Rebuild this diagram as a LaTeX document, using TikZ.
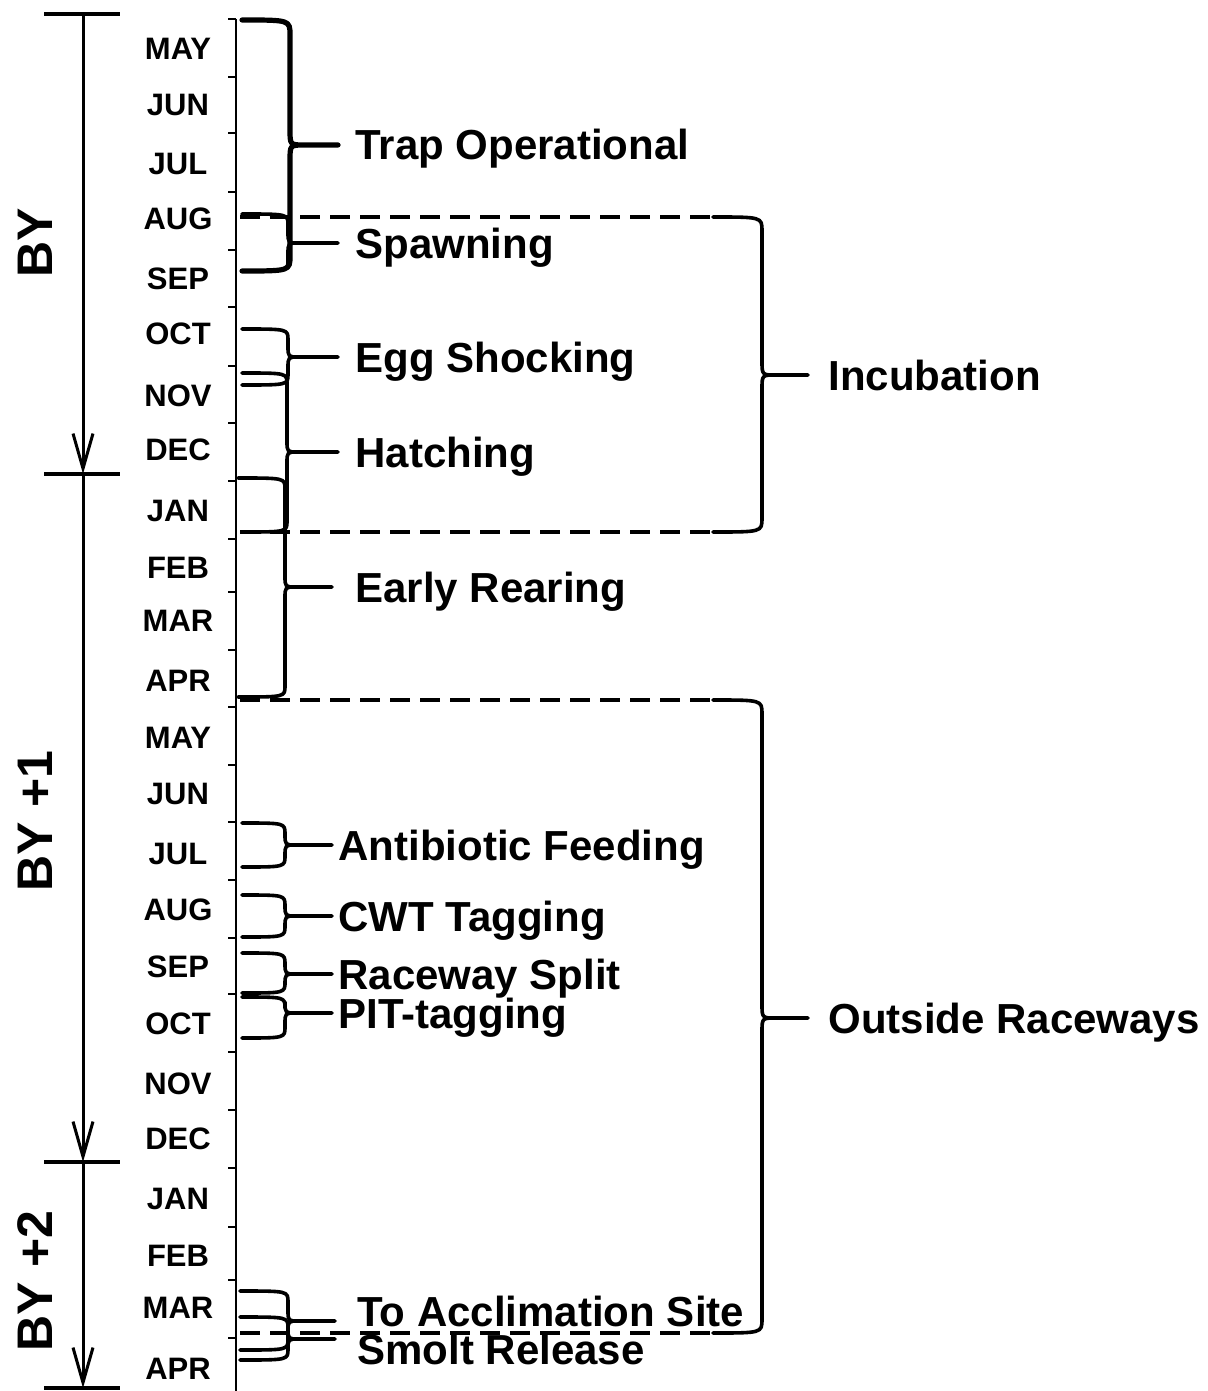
\documentclass[tikz,border=0pt]{standalone}
\usepackage{fontspec}
\setmainfont{Liberation Sans}
\usetikzlibrary{arrows.meta}

\tikzset{
  month/.style={font=\fontsize{15.5}{18}\selectfont\bfseries, inner sep=0pt, text height=11.1pt, text depth=0pt},
  phase/.style={font=\fontsize{21}{25}\selectfont\bfseries, anchor=west, inner ysep=0pt, inner xsep=8.5pt, text height=15pt, text depth=0pt},
  period/.style={font=\fontsize{25}{30}\selectfont\bfseries, rotate=90, inner sep=0pt, text height=17.9pt, text depth=0pt},
  bracestroke/.style={line width=1.8pt, line join=round, line cap=round},
  phaseline/.style={line width=1.8pt, dash pattern=on 10pt off 5pt},
  axisline/.style={line width=1pt},
  yearbar/.style={line width=2.2pt},
  yearspan/.style={line width=1.5pt, -{Straight Barb[length=17.5pt,width=10pt,line width=1.5pt]}},
}

% curly brace: #2 hook x, #3 spine x, #4 top y, #5 tip y, #6 bottom y, #7 label anchor
\newcommand{\phasebrace}[7][]{%
  \draw[bracestroke,#1] (#2,#4) .. controls (#3,#4) .. (#3,#4+\bracer)
    -- (#3,#5-\bracer) .. controls (#3,#5) .. (#3+\bracer,#5) -- (#7)
    -- (#3+\bracer,#5) .. controls (#3,#5) .. (#3,#5+\bracer)
    -- (#3,#6-\bracer) .. controls (#3,#6) .. (#2,#6);
}

\begin{document}
\begin{tikzpicture}[x=0.5pt, y=-0.5pt]
    \useasboundingbox (0,0) rectangle (1207,1391);

    % Brood years on the left
    \coordinate (by0) at (83,14);
    \coordinate (by1) at (83,474);
    \coordinate (by2) at (83,1162);
    \coordinate (by3) at (83,1388);
    \draw[yearbar] (44,14) -- (120,14);
    \draw[yearbar] (44,474) -- (120,474);
    \draw[yearbar] (44,1162) -- (120,1162);
    \draw[yearbar] (44,1388) -- (120,1388);
    \draw[yearspan] (by0) -- (by1);
    \draw[yearspan] (by1) -- (by2);
    \draw[yearspan] (by2) -- (by3);
    \node[period] (byA) at (35,243) {BY};
    \node[period] (byB) at (35,821) {BY +1};
    \node[period] (byC) at (35,1281) {BY +2};

    % Month axis with a tick at the start of each month
    \draw[axisline] (236,19) -- (236,1391);

    \node[month] (m1) at (178,48) {MAY};
    \draw[axisline] (228,19) -- (236,19);
    \node[month] (m2) at (178,104) {JUN};
    \draw[axisline] (228,77) -- (236,77);
    \node[month] (m3) at (178,163) {JUL};
    \draw[axisline] (228,133) -- (236,133);
    \node[month] (m4) at (178,218) {AUG};
    \draw[axisline] (228,192) -- (236,192);
    \node[month] (m5) at (178,278) {SEP};
    \draw[axisline] (228,250) -- (236,250);
    \node[month] (m6) at (178,333) {OCT};
    \draw[axisline] (228,307) -- (236,307);
    \node[month] (m7) at (178,395) {NOV};
    \draw[axisline] (228,366) -- (236,366);
    \node[month] (m8) at (178,449) {DEC};
    \draw[axisline] (228,423) -- (236,423);
    \node[month] (m9) at (178,510) {JAN};
    \draw[axisline] (228,481) -- (236,481);
    \node[month] (m10) at (178,567) {FEB};
    \draw[axisline] (228,539) -- (236,539);
    \node[month] (m11) at (178,620) {MAR};
    \draw[axisline] (228,592) -- (236,592);
    \node[month] (m12) at (178,680) {APR};
    \draw[axisline] (228,650) -- (236,650);
    \node[month] (m13) at (178,737) {MAY};
    \draw[axisline] (228,707) -- (236,707);
    \node[month] (m14) at (178,793) {JUN};
    \draw[axisline] (228,765) -- (236,765);
    \node[month] (m15) at (178,853) {JUL};
    \draw[axisline] (228,822) -- (236,822);
    \node[month] (m16) at (178,909) {AUG};
    \draw[axisline] (228,880) -- (236,880);
    \node[month] (m17) at (178,966) {SEP};
    \draw[axisline] (228,938) -- (236,938);
    \node[month] (m18) at (178,1023) {OCT};
    \draw[axisline] (228,994) -- (236,994);
    \node[month] (m19) at (178,1083) {NOV};
    \draw[axisline] (228,1052) -- (236,1052);
    \node[month] (m20) at (178,1138) {DEC};
    \draw[axisline] (228,1110) -- (236,1110);
    \node[month] (m21) at (178,1198) {JAN};
    \draw[axisline] (228,1168) -- (236,1168);
    \node[month] (m22) at (178,1255) {FEB};
    \draw[axisline] (228,1227) -- (236,1227);
    \node[month] (m23) at (178,1307) {MAR};
    \draw[axisline] (228,1280) -- (236,1280);
    \node[month] (m24) at (178,1368) {APR};
    \draw[axisline] (228,1338) -- (236,1338);

    % Phase labels
    \node[phase] (trap) at (338,145) {Trap Operational};
    \node[phase] (spawn) at (338,243) {Spawning};
    \node[phase] (shock) at (338,357) {Egg Shocking};
    \node[phase] (hatch) at (338,452) {Hatching};
    \node[phase, inner xsep=11.5pt] (rear) at (332,587) {Early Rearing};
    \node[phase, inner xsep=10pt] (incub) at (808,375) {Incubation};
    \node[phase, inner xsep=10pt] (outside) at (808,1018) {Outside Raceways};
    \node[phase, inner xsep=3pt] (feed) at (332,845) {Antibiotic Feeding};
    \node[phase, inner xsep=3pt] (cwt) at (332,916) {CWT Tagging};
    \node[phase, inner xsep=3pt] (split) at (332,974) {Raceway Split};
    \node[phase, inner xsep=3pt] (pit) at (332,1013) {PIT-tagging};
    \node[phase, inner xsep=11pt] (accl) at (335,1311) {To Acclimation Site};
    \node[phase, inner xsep=11pt] (smolt) at (335,1349) {Smolt Release};

    % Dashed limits of the two big stages
    \draw[phaseline] (240,217) -- (713,217);
    \draw[phaseline] (240,532) -- (713,532);
    \draw[phaseline] (240,700) -- (713,700);
    \draw[phaseline] (240,1333) -- (713,1333);

    % Braces from the months to the labels
    \def\bracer{15}
    \phasebrace[line width=2.6pt]{242}{290}{20}{145}{271}{trap.west}
    \def\bracer{11}
    \phasebrace{242}{288}{214}{243}{271}{spawn.west}
    \phasebrace{242}{288}{329}{357}{385}{shock.west}
    \phasebrace{242}{287}{373}{452}{532}{hatch.west}
    \phasebrace{238}{285}{478}{587}{697}{rear.west}
    \phasebrace{242}{285}{823}{845}{867}{feed.west}
    \phasebrace{242}{285}{895}{916}{937}{cwt.west}
    \phasebrace{242}{285}{953}{974}{993}{split.west}
    \phasebrace{242}{285}{997}{1013}{1038}{pit.west}
    \phasebrace{240}{288}{1291}{1321}{1350}{[yshift=-5pt]accl.west}
    \phasebrace{240}{288}{1317}{1339}{1360}{[yshift=5pt]smolt.west}
    \def\bracer{14}
    \phasebrace{713}{762}{217}{375}{532}{incub.west}
    \phasebrace{713}{762}{700}{1018}{1333}{outside.west}

\end{tikzpicture}
\end{document}
